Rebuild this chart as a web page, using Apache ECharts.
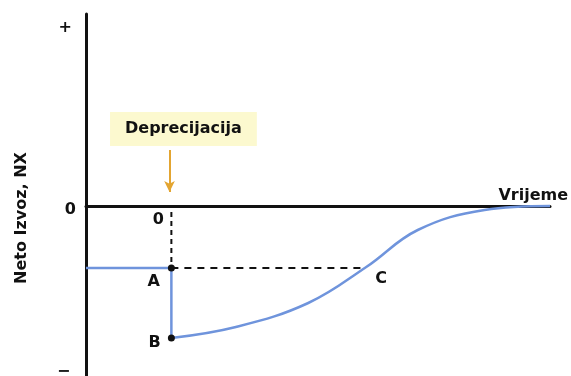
<!DOCTYPE html>
<html>
<head>
<meta charset="utf-8">
<script src="https://cdn.jsdelivr.net/npm/echarts@6/dist/echarts.min.js"></script>
<style>
  html, body { margin: 0; padding: 0; background: #fff; }
  #chart { width: 571px; height: 376px; }
</style>
</head>
<body>
<div id="chart"></div>
<script>
// podaci (vrijeme, neto izvoz)
var preShock = [[0, -6.2], [18.4, -6.2], [18.4, -13.2]];
var recovery = [[18.4, -13.2], [32.3, -12.1], [47.9, -9.7], [60.4, -6.1],
  [71.5, -2.4], [85.9, -0.4], [100, 0]];
var dots = [[18.4, -6.2], [18.4, -13.2]];
var dashV = [[18.4, -0.6], [18.4, -6.2]];
var dashH = [[18.4, -6.2], [60.4, -6.2]];
var arrow = [[18.0, 5.6], [18.0, 1.4]];
var pointNames = ['0', 'A', 'B', 'C'];
var pointPos = [[15.6, -1.4], [14.6, -7.6], [14.8, -13.7], [63.6, -7.3]];
var yMarks = ['+', '0', '\u2212'];
var yMarkPos = [[-4.5, 17.8], [-3.4, -0.4], [-4.8, -16.6]];
var yTitle = 'Neto Izvoz, NX';
var xTitle = 'Vrijeme';
var shockText = 'Deprecijacija';

var font = 'DejaVu Sans';
var blue = '#6f94dc';
var ink = '#111';

function textPoints(names, pos) {
    var out = [];
    for (var i = 0; i < names.length; i++) {
        out.push({ name: names[i], value: pos[i] });
    }
    return out;
}

function textLabel(size, extra) {
    var l = { show: true, position: 'inside', formatter: '{b}',
        fontFamily: font, fontWeight: 'bold', fontSize: size, color: ink };
    for (var k in extra) l[k] = extra[k];
    return l;
}

var chart = echarts.init(document.getElementById('chart'));
chart.setOption({
    animation: false,
    grid: { left: 86, right: 18, top: 14, bottom: 0 },
    xAxis: {
        type: 'value', min: 0, max: 100,
        name: xTitle, nameLocation: 'end', nameGap: 18,
        nameTextStyle: { fontFamily: font, fontWeight: 'bold', fontSize: 16, color: ink,
            align: 'right', verticalAlign: 'bottom', padding: [0, 0, 2, 0] },
        axisLine: { onZero: true, lineStyle: { color: ink, width: 3 } },
        axisTick: { show: false }, axisLabel: { show: false }, splitLine: { show: false }
    },
    yAxis: {
        type: 'value', min: -17, max: 19.2,
        axisLine: { show: true, lineStyle: { color: ink, width: 3 } },
        axisTick: { show: false }, axisLabel: { show: false }, splitLine: { show: false }
    },
    series: [
        { type: 'line', data: preShock, symbol: 'none', lineStyle: { color: blue, width: 2.5 } },
        { type: 'line', data: recovery, smooth: 0.4, symbol: 'none',
            lineStyle: { color: blue, width: 2.5 } },
        { type: 'line', data: dashV, symbol: 'none', lineStyle: { color: ink, width: 2, type: [5, 4] } },
        { type: 'line', data: dashH, symbol: 'none', lineStyle: { color: ink, width: 2, type: [7, 6] },
            // strelica deprecijacije
            markLine: {
                silent: true, symbol: ['none', 'arrow'], symbolSize: [8, 11],
                label: { show: false },
                lineStyle: { color: '#e3a531', width: 2, type: 'solid' },
                data: [[{ coord: arrow[0] }, { coord: arrow[1] }]]
            }
        },
        { type: 'scatter', data: dots, symbolSize: 7, itemStyle: { color: ink, opacity: 1 }, z: 5 },
        { type: 'scatter', clip: false, symbolSize: 0, itemStyle: { opacity: 1 },
            data: textPoints(pointNames, pointPos), label: textLabel(16, {}) },
        { type: 'scatter', clip: false, symbolSize: 0, itemStyle: { opacity: 1 },
            data: textPoints(yMarks, yMarkPos), label: textLabel(16, {}) },
        { type: 'scatter', clip: false, symbolSize: 0, itemStyle: { opacity: 1 },
            data: [{ name: yTitle, value: [-13.9, -1.2] }], label: textLabel(16, { rotate: 90 }) },
        { type: 'scatter', clip: false, symbolSize: 0, itemStyle: { opacity: 1 },
            data: [{ name: shockText, value: [21.0, 7.7] }],
            label: textLabel(16, { backgroundColor: '#fcf9cf', padding: [9, 15, 9, 15] }) }
    ]
});
</script>
</body>
</html>
